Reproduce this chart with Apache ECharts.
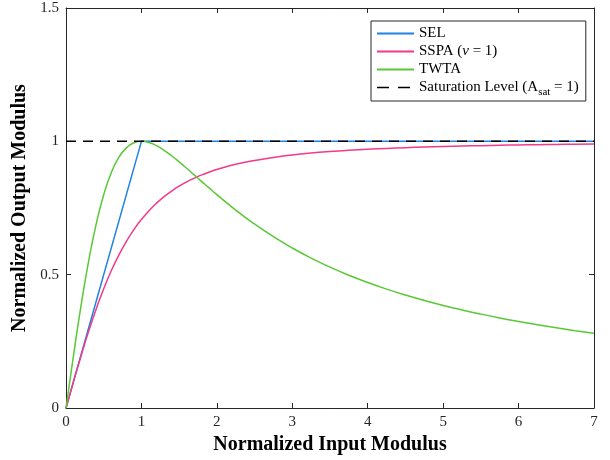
<!DOCTYPE html>
<html><head><meta charset="utf-8">
<script src="https://cdn.jsdelivr.net/npm/echarts@6/dist/echarts.min.js"></script>
<style>html,body{margin:0;padding:0;background:#fff}#c{width:610px;height:460px}</style>
</head><body><div id="c"></div>
<script>
// Data
const xInput = [0,0.1,0.2,0.3,0.4,0.5,0.6,0.7,0.8,0.9,1.0,1.1,1.2,1.3,1.4,1.5,1.6,1.7,1.8,1.9,2.0,
  2.25,2.5,2.75,3.0,3.25,3.5,3.75,4.0,4.25,4.5,4.75,5.0,5.25,5.5,5.75,6.0,6.25,6.5,6.75,7.0];
const sspaOut = [0,0.0995,0.1961,0.2873,0.3714,0.4472,0.5145,0.5735,0.6247,0.6690,0.7071,0.7399,0.7682,0.7926,0.8137,0.8321,0.8480,0.8619,0.8742,0.8849,0.8944,
  0.9138,0.9285,0.9398,0.9487,0.9558,0.9615,0.9662,0.9701,0.9734,0.9762,0.9786,0.9806,0.9823,0.9839,0.9852,0.9864,0.9874,0.9884,0.9892,0.9899];
const twtaOut = [0,0.1980,0.3846,0.5505,0.6897,0.8,0.8824,0.9396,0.9756,0.9945,1.0,0.9955,0.9836,0.9665,0.9459,0.9231,0.8989,0.8740,0.8491,0.8243,0.8,
  0.7423,0.6897,0.6423,0.6,0.5622,0.5283,0.4979,0.4706,0.4459,0.4235,0.4032,0.3846,0.3676,0.352,0.3376,0.3243,0.3120,0.3006,0.2899,0.28];
const selX = [0,1,7];
const selY = [0,1,1];
const satX = [0,7];
const satY = [1,1];
const xTicks = [0,1,2,3,4,5,6,7];
const yTicks = [0,0.5,1,1.5];
const names = ['SEL','SSPA','TWTA','SAT'];

const zip = (a,b)=>a.map((v,i)=>[v,b[i]]);
const font = 'Liberation Serif';
const axisCol = '#262626';
const chart = echarts.init(document.getElementById('c'));
function mkAxis(min,max,interval){
  return {type:'value',min:min,max:max,interval:interval,
    axisLine:{show:true,onZero:false,lineStyle:{color:axisCol,width:1}},
    axisTick:{show:true,inside:true,length:5,lineStyle:{color:axisCol}},
    splitLine:{show:false}};
}
const xb = mkAxis(0,7,1), xt = mkAxis(0,7,1), yl = mkAxis(0,1.5,0.5), yr = mkAxis(0,1.5,0.5);
Object.assign(xb,{position:'bottom',name:'Normalized Input Modulus',nameLocation:'middle',nameGap:27,
  nameTextStyle:{fontFamily:font,fontWeight:'bold',fontSize:20,color:'#000'},
  axisLabel:{fontFamily:font,fontSize:15,color:'#262626',margin:7,formatter:v=>xTicks.includes(v)?String(v):''}});
Object.assign(xt,{position:'top',axisLabel:{show:false}});
Object.assign(yl,{position:'left',name:'Normalized Output Modulus',nameLocation:'middle',nameGap:32,
  nameTextStyle:{fontFamily:font,fontWeight:'bold',fontSize:20,color:'#000'},
  axisLabel:{fontFamily:font,fontSize:15,color:'#262626',margin:7,formatter:v=>yTicks.includes(v)?String(v):''}});
Object.assign(yr,{position:'right',axisLabel:{show:false}});

chart.setOption({
  animation:false,
  backgroundColor:'#fff',
  grid:{left:66,top:8,width:528,height:400,containLabel:false},
  xAxis:[xb,xt],
  yAxis:[yl,yr],
  legend:{
    show:true,
    orient:'vertical',left:371,top:21,
    backgroundColor:'#fff',borderColor:'#262626',borderWidth:1,borderRadius:0,
    padding:[5,7,3,5],itemGap:3,itemWidth:37,itemHeight:14,
    itemStyle:{opacity:0},
    data:names.map(n=>n==='SAT'?{name:n,lineStyle:{type:[12,9],color:'#000',width:1.5}}:{name:n}),
    formatter:function(n){
      if(n==='SEL') return 'SEL';
      if(n==='SSPA') return 'SSPA ({i|ν} = 1)';
      if(n==='TWTA') return 'TWTA';
      return 'Saturation Level (A{s|sat} = 1)';
    },
    textStyle:{fontFamily:font,fontSize:15,color:'#000',
      rich:{i:{fontFamily:font,fontStyle:'italic',fontSize:15,color:'#000'},s:{fontFamily:font,fontSize:11,color:'#000',padding:[10,0,0,0]}}}
  },
  series:[
    {name:'SEL',type:'line',data:zip(selX,selY),showSymbol:false,symbol:'none',lineStyle:{color:'#1f82e3',width:1.5},itemStyle:{color:'#1f82e3'}},
    {name:'SSPA',type:'line',data:zip(xInput,sspaOut),smooth:true,showSymbol:false,symbol:'none',lineStyle:{color:'#f2398a',width:1.5},itemStyle:{color:'#f2398a'}},
    {name:'TWTA',type:'line',data:zip(xInput,twtaOut),smooth:true,showSymbol:false,symbol:'none',lineStyle:{color:'#58c934',width:1.5},itemStyle:{color:'#58c934'}},
    {name:'SAT',type:'line',data:zip(satX,satY),showSymbol:false,symbol:'none',lineStyle:{color:'#000',width:1.5,type:[10,7]},itemStyle:{color:'#000'}}
  ]
});
</script></body></html>
